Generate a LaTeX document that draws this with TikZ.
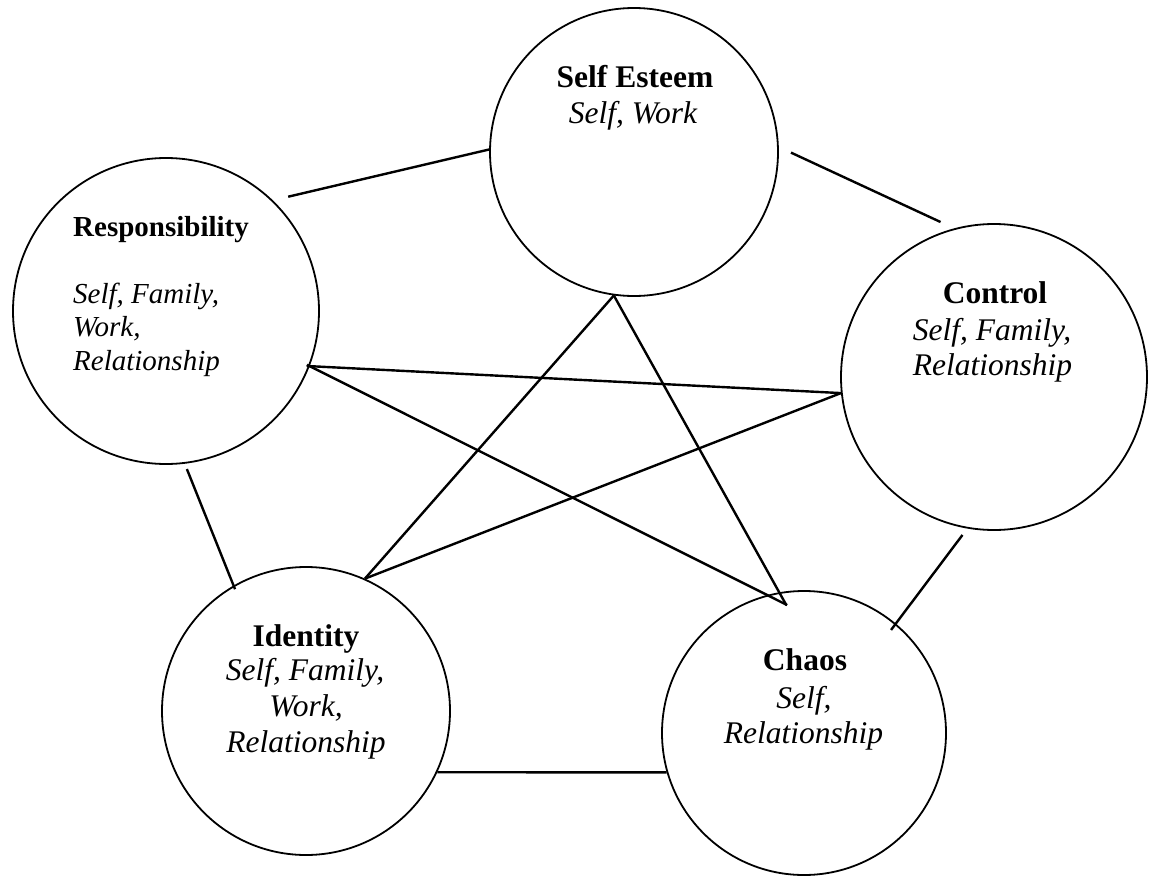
\documentclass[tikz,border=0pt]{standalone}
\usepackage{fontspec}
\setmainfont{Liberation Serif}
\begin{document}
\begin{tikzpicture}[x=1pt,y=-1pt,
  ring/.style={circle,draw,line width=1.8pt,inner sep=0pt},
  link/.style={line width=2.4pt},
  title/.style={font=\fontsize{31.5}{36}\selectfont\bfseries,inner sep=0pt,anchor=base},
  areas/.style={font=\fontsize{31.5}{36}\selectfont\itshape,inner sep=0pt,anchor=base},
  stitle/.style={font=\fontsize{29}{33.5}\selectfont\bfseries,inner sep=0pt,anchor=base west},
  sareas/.style={font=\fontsize{29}{33.5}\selectfont\itshape,inner sep=0pt,anchor=base west}]
\useasboundingbox (0,0) rectangle (1149,878);
\fill[white] (0,0) rectangle (1149,878);

% the five themes
\node[ring,minimum size=288pt] (se)    at (634,152) {};
\node[ring,minimum size=306pt] (resp)  at (166,311) {};
\node[ring,minimum size=306pt] (ctrl)  at (994,377) {};
\node[ring,minimum size=288pt] (iden)  at (306,711) {};
\node[ring,minimum size=284pt] (chaos) at (804,733) {};

% labels
\node[title] (se1) at (635,87)  {Self Esteem};
\node[areas] (se2) at (633,123) {Self, Work};

\node[stitle] (resp1) at (73,236.7) {Responsibility};
\node[sareas] (resp2) at (73,303.3) {Self, Family,};
\node[sareas] (resp3) at (73,336.5) {Work,};
\node[sareas] (resp4) at (73,370)   {Relationship};

\node[title] (ctrl1) at (995,303.3) {Control};
\node[areas] (ctrl2) at (992,340.7) {Self, Family,};
\node[areas] (ctrl3) at (992.5,375.7) {Relationship};

\node[title] (iden1) at (306,646)   {Identity};
\node[areas] (iden2) at (305,680.7) {Self, Family,};
\node[areas] (iden3) at (306,716.7) {Work,};
\node[areas] (iden4) at (306,752.3) {Relationship};

\node[title] (chaos1) at (805,670.7) {Chaos};
\node[areas] (chaos2) at (804,708.3) {Self,};
\node[areas] (chaos3) at (803.5,743.3) {Relationship};

% outer ring of links
\draw[link,shorten <=15.7pt] (resp.46) -- (se.179);
\draw[link,shorten <=13.4pt,shorten >=15pt] (se.2) -- (ctrl.105);
\draw[link,shorten <=8pt,shorten >=-8pt] (ctrl.260) -- (chaos.50);
\draw[link] (iden.-25) -- (chaos.196);
\draw[link,shorten <=5.7pt,shorten >=-4pt] (resp.-83) -- (iden.120);

% inner star of links
\draw[link,shorten <=-3pt] (resp.-21) -- (ctrl.186);
\draw[link,shorten <=-3pt,shorten >=-22.5pt] (resp.-21) -- (chaos.105);
\draw[link] (se.262) -- (iden.66);
\draw[link,shorten >=-14.8pt] (se.262) -- (chaos.100);
\draw[link] (ctrl.186) -- (iden.66);
\end{tikzpicture}
\end{document}
